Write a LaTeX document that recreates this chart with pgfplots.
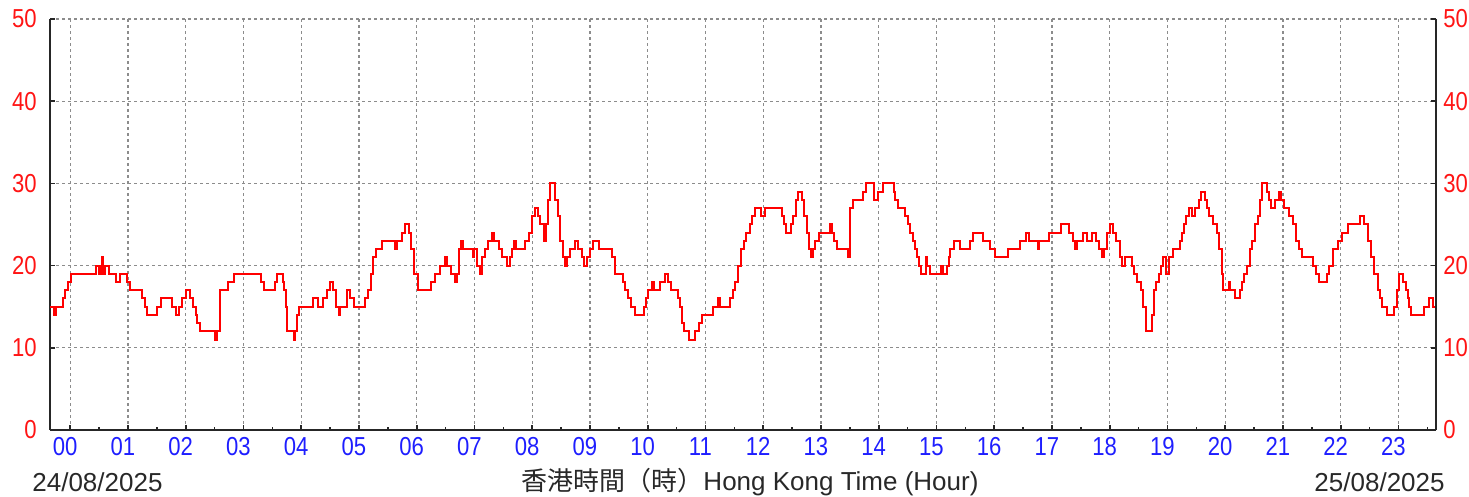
\documentclass[border=0pt]{standalone}
\usepackage{pgfplots}
\pgfplotsset{compat=1.18}
\usepackage{pgfplotstable}
\usepackage{fontspec}
\setmainfont{Liberation Sans}
\newfontfamily\tickfont[FakeStretch=0.85]{Liberation Sans}
\newfontfamily\cjk{Noto Sans CJK TC}
\definecolor{tickred}{RGB}{255,20,20}
\definecolor{tickblue}{RGB}{30,30,255}
\definecolor{gridgray}{RGB}{140,140,140}
\definecolor{txtgray}{RGB}{40,40,40}

\pgfplotstableread{
h v
-0.35 15
-0.28 14
-0.24 15
-0.13 16
-0.09 17
-0.04 18
0.02 19
0.44 20
0.50 19
0.53 20
0.55 21
0.57 19
0.60 20
0.67 19
0.80 18
0.86 19
0.99 18
1.04 17
1.25 16
1.29 15
1.33 14
1.50 15
1.57 16
1.76 15
1.83 14
1.88 15
1.94 16
2.00 17
2.07 16
2.12 15
2.17 14
2.20 13
2.24 12
2.50 11
2.55 12
2.60 17
2.74 18
2.83 19
3.30 18
3.35 17
3.55 18
3.58 19
3.68 18
3.71 17
3.73 15
3.76 12
3.87 11
3.90 12
3.93 14
3.97 15
4.20 16
4.29 15
4.38 16
4.44 17
4.50 18
4.55 17
4.60 15
4.65 14
4.68 15
4.80 17
4.85 16
4.92 15
5.10 16
5.15 17
5.20 19
5.25 21
5.30 22
5.40 23
5.62 22
5.66 23
5.75 24
5.80 25
5.86 24
5.90 22
5.96 19
6.02 17
6.25 18
6.32 19
6.40 20
6.49 21
6.53 20
6.60 19
6.67 18
6.70 19
6.74 22
6.77 23
6.81 22
6.97 21
7.00 22
7.05 20
7.10 19
7.13 21
7.18 22
7.24 23
7.30 24
7.33 23
7.42 22
7.47 21
7.56 20
7.62 21
7.65 22
7.68 23
7.72 22
7.88 23
7.94 24
8.00 26
8.05 27
8.10 26
8.14 25
8.20 23
8.24 25
8.28 28
8.31 30
8.40 28
8.44 26
8.48 23
8.54 21
8.57 20
8.61 21
8.66 22
8.74 23
8.80 22
8.86 21
8.90 20
8.94 21
9.00 22
9.05 23
9.15 22
9.38 21
9.44 19
9.57 18
9.61 17
9.65 16
9.71 15
9.78 14
9.93 15
9.97 16
10.01 17
10.07 18
10.11 17
10.22 18
10.30 19
10.35 18
10.40 17
10.52 16
10.56 15
10.59 13
10.63 12
10.72 11
10.82 12
10.88 13
10.94 14
11.13 15
11.21 16
11.25 15
11.42 16
11.47 17
11.52 18
11.56 20
11.61 22
11.66 23
11.71 24
11.77 25
11.80 26
11.86 27
11.97 26
12.03 27
12.32 26
12.36 25
12.40 24
12.48 25
12.51 26
12.57 28
12.61 29
12.67 28
12.71 26
12.76 24
12.80 22
12.82 21
12.87 22
12.90 23
12.96 24
13.16 25
13.19 24
13.23 23
13.28 22
13.46 21
13.51 27
13.56 28
13.73 29
13.78 30
13.92 28
13.98 29
14.07 30
14.26 29
14.29 28
14.33 27
14.45 26
14.50 25
14.54 24
14.59 23
14.63 22
14.67 21
14.70 20
14.73 19
14.82 21
14.84 20
14.89 19
15.08 20
15.11 19
15.19 20
15.21 21
15.24 22
15.30 23
15.40 22
15.58 23
15.64 24
15.80 23
15.93 22
16.02 21
16.23 22
16.45 23
16.55 24
16.61 23
16.75 22
16.78 23
16.95 24
17.15 25
17.30 24
17.36 23
17.40 22
17.44 23
17.54 24
17.60 23
17.69 24
17.77 23
17.82 22
17.86 21
17.90 22
17.96 24
18.00 25
18.06 24
18.11 23
18.17 21
18.22 20
18.27 21
18.38 20
18.42 19
18.48 18
18.54 17
18.58 15
18.63 12
18.73 14
18.77 17
18.81 18
18.85 19
18.89 20
18.92 21
18.97 19
19.02 21
19.10 22
19.21 23
19.25 24
19.29 25
19.32 26
19.37 27
19.42 26
19.48 27
19.55 28
19.58 29
19.65 28
19.68 27
19.72 26
19.78 25
19.85 24
19.90 22
19.94 19
19.97 17
20.06 18
20.08 17
20.17 16
20.25 17
20.29 18
20.33 19
20.37 20
20.43 22
20.47 23
20.51 25
20.56 26
20.60 28
20.63 30
20.72 29
20.75 28
20.79 27
20.87 28
20.93 29
20.97 28
21.02 27
21.10 26
21.18 25
21.23 23
21.28 22
21.33 21
21.52 20
21.57 19
21.63 18
21.77 19
21.80 20
21.87 22
21.95 23
22.02 24
22.12 25
22.33 26
22.41 25
22.47 23
22.52 21
22.58 19
22.64 17
22.68 16
22.71 15
22.81 14
22.93 15
22.97 17
23.01 19
23.07 18
23.13 17
23.16 16
23.19 15
23.22 14
23.45 15
23.52 16
23.60 15
23.65 15
}\windtable

\begin{document}
\fontsize{13}{15}\selectfont
\begin{tikzpicture}
\path[use as bounding box] (-25pt,-33.5pt) rectangle (709.5pt,215pt);
\pgfplotsset{
  common/.style={
    scale only axis,
    width=693pt, height=205.5pt,
    at={(0,0)}, anchor=south west,
    xmin=-0.35, xmax=23.65, ymin=0, ymax=50,
    ytick={0,10,...,50},
    /pgf/number format/assume math mode=true,
    tick align=inside,
    major tick length=2.5pt,
    minor tick length=1.5pt,
    tick style={black!85, line width=0.8pt},
    axis line style={black!85, line width=1pt},
    yticklabel style={font=\tickfont\fontsize{13}{15}\selectfont, text=tickred, inner sep=0pt},
  }
}
\begin{axis}[common,
  axis x line*=bottom, axis y line*=left,
  xtick={0,...,23},
  minor xtick={0.5,1.5,...,23.5},
  xticklabels={00,01,02,03,04,05,06,07,08,09,10,11,12,13,14,15,16,17,18,19,20,21,22,23},
  xticklabel style={font=\tickfont\fontsize{13}{15}\selectfont, text=tickblue, inner sep=0pt, anchor=north, yshift=-3.5pt, xshift=-2.5pt},
  yticklabel style={anchor=east, xshift=-6.5pt},
  grid=major,
  major grid style={gridgray, line width=0.6pt, dash pattern=on 1.5pt off 1.5pt},
]
\addplot[const plot, red, line width=1pt] table[x=h, y=v] {\windtable};
\end{axis}
\begin{axis}[common,
  axis x line=none, axis y line*=right,
  yticklabel style={anchor=west, xshift=3.5pt},
]
\end{axis}
\node[anchor=west, text=txtgray, inner sep=0pt] at (-9pt,-26pt) {24/08/2025};
\node[anchor=east, text=txtgray, inner sep=0pt] at (697.5pt,-26pt) {25/08/2025};
\node[text=txtgray, inner sep=0pt] at (350pt,-26pt) {{\cjk 香港時間（時）}Hong Kong Time (Hour)};
\end{tikzpicture}
\end{document}
